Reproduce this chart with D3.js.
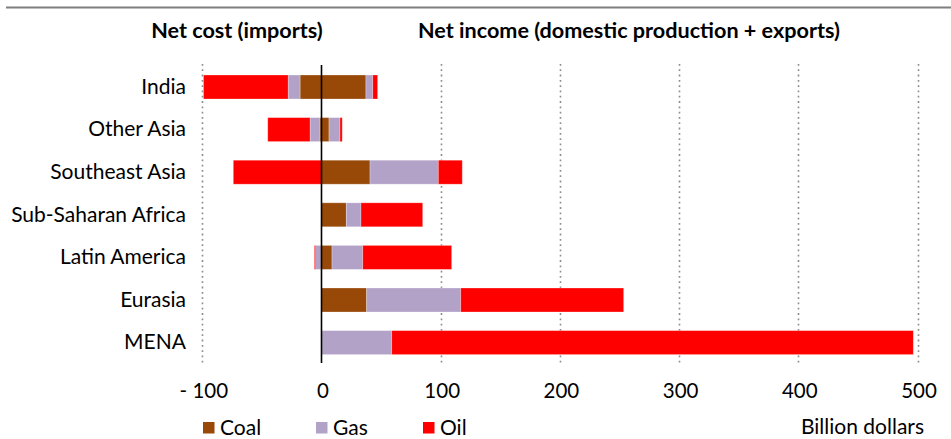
<!DOCTYPE html>
<html>
<head>
<meta charset="utf-8">
<script src="https://cdn.jsdelivr.net/npm/d3@7"></script>
<style>
  html, body { margin: 0; padding: 0; background: #fff; }
  svg { display: block; font-family: Lato, "Open Sans", sans-serif; }
</style>
</head>
<body>
<svg id="chart" width="951" height="439"></svg>
<script>
// ---- data (billion dollars) ----
const regions = ["India", "Other Asia", "Southeast Asia", "Sub-Saharan Africa", "Latin America", "Eurasia", "MENA"];
const coalImports = [-18, -1.3, 0, 0, 0, 0, 0];
const gasImports  = [-10, -8.3, 0, 0, -4.9, 0, 0];
const oilImports  = [-71, -35.5, -74, 0, -1.1, 0, 0];
const coalIncome  = [37.3, 6.3, 40.7, 20.8, 8.8, 37.9, 0];
const gasIncome   = [5.7, 9.2, 57.3, 12.3, 25.8, 78.9, 58.9];
const oilIncome   = [4.1, 1.9, 20.1, 51.8, 74.6, 136.7, 437.6];
const fuels = ["Coal", "Gas", "Oil"];
const xTicks = [-100, 0, 100, 200, 300, 400, 500];
const gridTicks = [-100, 100, 200, 300, 400, 500];
const titles = ["Net cost (imports)", "Net income (domestic production + exports)"];
const unitLabel = "Billion dollars";

const colors = { Coal: "#984807", Gas: "#B3A2C7", Oil: "#FF0000" };

// table for stacking
const keys = ["coalImp", "gasImp", "oilImp", "coalInc", "gasInc", "oilInc"];
const keyFuel = { coalImp: "Coal", gasImp: "Gas", oilImp: "Oil", coalInc: "Coal", gasInc: "Gas", oilInc: "Oil" };
const table = regions.map((r, i) => ({
  region: r,
  coalImp: coalImports[i], gasImp: gasImports[i], oilImp: oilImports[i],
  coalInc: coalIncome[i], gasInc: gasIncome[i], oilInc: oilIncome[i]
}));

const svg = d3.select("#chart");

// top rule
svg.append("line").attr("x1", 6).attr("x2", 951).attr("y1", 7.5).attr("y2", 7.5)
  .attr("stroke", "#7f7f7f").attr("stroke-width", 2);

const x = d3.scaleLinear().domain([-100, 500]).range([202.3, 917.5]);
const y = d3.scaleBand().domain(regions).range([65.7, 363.9]).paddingInner(0.437).paddingOuter(0.2185);

// gridlines
svg.append("g").selectAll("line").data(gridTicks).join("line")
  .attr("x1", d => Math.round(x(d)) + 0.5).attr("x2", d => Math.round(x(d)) + 0.5)
  .attr("y1", 64).attr("y2", 363)
  .attr("stroke", "#8c8c8c").attr("stroke-width", 1.6)
  .attr("stroke-dasharray", "1.8,3.5");

// stacked bars
const series = d3.stack().keys(keys).offset(d3.stackOffsetDiverging)(table);
svg.append("g").selectAll("g").data(series).join("g")
  .attr("fill", d => colors[keyFuel[d.key]])
  .selectAll("rect").data(d => d).join("rect")
  .attr("x", d => x(Math.min(d[0], d[1])))
  .attr("width", d => Math.abs(x(d[1]) - x(d[0])))
  .attr("y", d => y(d.data.region))
  .attr("height", y.bandwidth())
  .attr("stroke", "#fff").attr("stroke-opacity", 0.35).attr("stroke-width", 0.8);

// zero line
svg.append("line").attr("x1", x(0)).attr("x2", x(0)).attr("y1", 65).attr("y2", 363)
  .attr("stroke", "#000").attr("stroke-width", 1.6);

// x axis labels
const xAxis = d3.axisBottom(x).tickValues(xTicks).tickSize(0).tickPadding(0)
  .tickFormat(d => d < 0 ? "- " + Math.abs(d) : String(d));
const gx = svg.append("g").attr("transform", "translate(1,383)").call(xAxis);
gx.select(".domain").remove();
gx.selectAll("text").attr("font-size", 20.5).attr("fill", "#000").attr("font-family", "Lato, sans-serif");

// y axis labels
const yAxis = d3.axisLeft(y).tickSize(0).tickPadding(0);
const gy = svg.append("g").attr("transform", "translate(186,0)").call(yAxis);
gy.select(".domain").remove();
gy.selectAll("text").attr("font-size", 21).attr("fill", "#000").attr("font-family", "Lato, sans-serif");

// titles
svg.append("text").attr("x", 237).attr("y", 38).attr("text-anchor", "middle")
  .attr("font-size", 21.6).attr("font-weight", "bold").text(titles[0]);
svg.append("text").attr("x", 629).attr("y", 38).attr("text-anchor", "middle")
  .attr("font-size", 21.6).attr("font-weight", "bold").text(titles[1]);

// legend
const legendX = [203, 316, 423];
const lg = svg.append("g").selectAll("g").data(fuels).join("g")
  .attr("transform", (d, i) => `translate(${legendX[i]},422)`);
lg.append("rect").attr("width", 11.5).attr("height", 11.5).attr("fill", d => colors[d]);
lg.append("text").attr("x", 17).attr("y", 12.5).attr("font-size", 21).text(d => d);

svg.append("text").attr("x", 924).attr("y", 433.5).attr("text-anchor", "end")
  .attr("font-size", 21).text(unitLabel);
</script>
</body>
</html>
